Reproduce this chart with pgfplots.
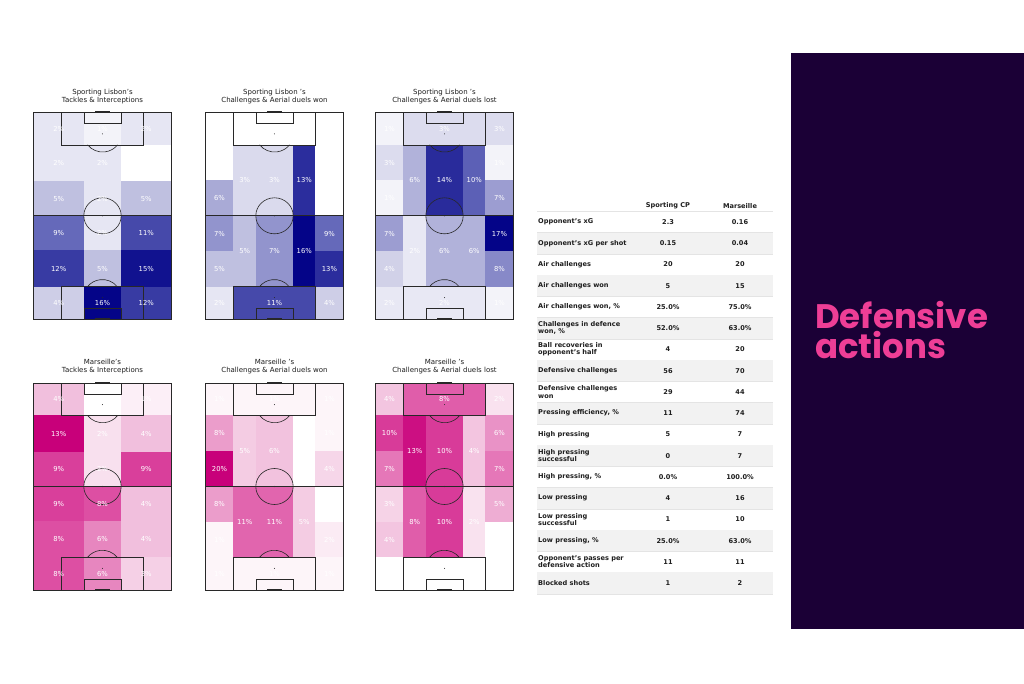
\documentclass[border=0pt]{standalone}
\usepackage{fontspec}
\setmainfont{DejaVu Sans}
\newfontfamily\poppins{Poppins}
\usepackage{pgfplots}
\usepackage{pgfplotstable}
\pgfplotsset{compat=1.18}

\definecolor{panel}{RGB}{27,0,54}
\definecolor{pinktitle}{RGB}{238,62,150}
\definecolor{stripe}{RGB}{242,242,242}
\definecolor{rowline}{RGB}{228,228,228}
\definecolor{txt}{RGB}{30,30,30}
\definecolor{pline}{RGB}{40,40,40}

\pgfplotsset{
  colormap={pinks}{rgb255(0cm)=(255,255,255) rgb255(3cm)=(242,194,222) rgb255(6cm)=(222,82,165) rgb255(10cm)=(200,0,122)},
  colormap={blues}{rgb255(0cm)=(255,255,255) rgb255(3cm)=(196,196,226) rgb255(6cm)=(88,92,180) rgb255(10cm)=(4,4,136)},
  cellstyle/.style={patch, patch type=rectangle, shader=faceted, faceted color=mapped color, line width=0.4pt, point meta=explicit},
  pitch/.style={width=138pt, height=207pt, scale only axis, xmin=0, xmax=68, ymin=0, ymax=105,
    axis lines=none, clip=false, anchor=south west, point meta min=0},
  labelsty/.style={only marks, mark=none, point meta=explicit symbolic,
    nodes near coords={\pgfplotspointmeta\%},
    nodes near coords style={font={\fontsize{6.8}{8}\selectfont}, text=white, anchor=center, inner sep=0pt}},
}

% ---------- data: x0 x1 y0 y1 value (percent) ----------
% Sporting Lisbon: Tackles & Interceptions
\pgfplotstableread{
x0 x1 y0 y1 v
0 24.84 88.5 105 2
24.84 43.16 88.5 105 1
43.16 68 88.5 105 2
0 24.84 70 88.5 2
24.84 43.16 70 88.5 2
43.16 68 70 88.5 0
0 24.84 52.5 70 5
24.84 43.16 52.5 70 2
43.16 68 52.5 70 5
0 24.84 35 52.5 9
24.84 43.16 35 52.5 2
43.16 68 35 52.5 11
0 24.84 16.5 35 12
24.84 43.16 16.5 35 5
43.16 68 16.5 35 15
0 24.84 0 16.5 4
24.84 43.16 0 16.5 16
43.16 68 0 16.5 12
}\tA
% Sporting Lisbon: Challenges & Aerial duels won
\pgfplotstableread{
x0 x1 y0 y1 v
0 13.84 88.5 105 0
13.84 54.16 88.5 105 0
54.16 68 88.5 105 0
0 13.84 70.5 88.5 0
0 13.84 52.5 70.5 6
0 13.84 34.5 52.5 7
0 13.84 16.5 34.5 5
13.84 24.84 52.5 88.5 3
13.84 24.84 16.5 52.5 5
24.84 43.16 52.5 88.5 3
24.84 43.16 16.5 52.5 7
43.16 54.16 52.5 88.5 13
43.16 54.16 16.5 52.5 16
54.16 68 70.5 88.5 0
54.16 68 52.5 70.5 0
54.16 68 34.5 52.5 9
54.16 68 16.5 34.5 13
0 13.84 0 16.5 2
13.84 54.16 0 16.5 11
54.16 68 0 16.5 4
}\tB
% Sporting Lisbon: Challenges & Aerial duels lost
\pgfplotstableread{
x0 x1 y0 y1 v
0 13.84 88.5 105 1
13.84 54.16 88.5 105 3
54.16 68 88.5 105 3
0 13.84 70.5 88.5 3
0 13.84 52.5 70.5 1
0 13.84 34.5 52.5 7
0 13.84 16.5 34.5 4
13.84 24.84 52.5 88.5 6
13.84 24.84 16.5 52.5 2
24.84 43.16 52.5 88.5 14
24.84 43.16 16.5 52.5 6
43.16 54.16 52.5 88.5 10
43.16 54.16 16.5 52.5 6
54.16 68 70.5 88.5 1
54.16 68 52.5 70.5 7
54.16 68 34.5 52.5 17
54.16 68 16.5 34.5 8
0 13.84 0 16.5 2
13.84 54.16 0 16.5 2
54.16 68 0 16.5 1
}\tC
% Marseille: Tackles & Interceptions
\pgfplotstableread{
x0 x1 y0 y1 v
0 24.84 88.5 105 4
24.84 43.16 88.5 105 0
43.16 68 88.5 105 1
0 24.84 70 88.5 13
24.84 43.16 70 88.5 2
43.16 68 70 88.5 4
0 24.84 52.5 70 9
24.84 43.16 52.5 70 2
43.16 68 52.5 70 9
0 24.84 35 52.5 9
24.84 43.16 35 52.5 8
43.16 68 35 52.5 4
0 24.84 16.5 35 8
24.84 43.16 16.5 35 6
43.16 68 16.5 35 4
0 24.84 0 16.5 8
24.84 43.16 0 16.5 6
43.16 68 0 16.5 3
}\tD
% Marseille: Challenges & Aerial duels won
\pgfplotstableread{
x0 x1 y0 y1 v
0 13.84 88.5 105 1
13.84 54.16 88.5 105 1
54.16 68 88.5 105 1
0 13.84 70.5 88.5 8
0 13.84 52.5 70.5 20
0 13.84 34.5 52.5 8
0 13.84 16.5 34.5 1
13.84 24.84 52.5 88.5 5
13.84 24.84 16.5 52.5 11
24.84 43.16 52.5 88.5 6
24.84 43.16 16.5 52.5 11
43.16 54.16 52.5 88.5 0
43.16 54.16 16.5 52.5 5
54.16 68 70.5 88.5 1
54.16 68 52.5 70.5 4
54.16 68 34.5 52.5 0
54.16 68 16.5 34.5 2
0 13.84 0 16.5 1
13.84 54.16 0 16.5 1
54.16 68 0 16.5 1
}\tE
% Marseille: Challenges & Aerial duels lost
\pgfplotstableread{
x0 x1 y0 y1 v
0 13.84 88.5 105 4
13.84 54.16 88.5 105 8
54.16 68 88.5 105 2
0 13.84 70.5 88.5 10
0 13.84 52.5 70.5 7
0 13.84 34.5 52.5 3
0 13.84 16.5 34.5 4
13.84 24.84 52.5 88.5 13
13.84 24.84 16.5 52.5 8
24.84 43.16 52.5 88.5 10
24.84 43.16 16.5 52.5 10
43.16 54.16 52.5 88.5 4
43.16 54.16 16.5 52.5 2
54.16 68 70.5 88.5 6
54.16 68 52.5 70.5 7
54.16 68 34.5 52.5 5
54.16 68 16.5 34.5 0
0 13.84 0 16.5 0
13.84 54.16 0 16.5 0
54.16 68 0 16.5 0
}\tF

\newcommand\drawcells[1]{%
  \pgfplotstablegetrowsof{#1}%
  \pgfmathtruncatemacro\nrows{\pgfplotsretval-1}%
  \pgfplotsforeachungrouped \i in {0,...,\nrows}{%
    \pgfplotstablegetelem{\i}{x0}\of#1\let\xa\pgfplotsretval
    \pgfplotstablegetelem{\i}{x1}\of#1\let\xb\pgfplotsretval
    \pgfplotstablegetelem{\i}{y0}\of#1\let\ya\pgfplotsretval
    \pgfplotstablegetelem{\i}{y1}\of#1\let\yb\pgfplotsretval
    \pgfplotstablegetelem{\i}{v}\of#1\let\vv\pgfplotsretval
    \edef\tmp{\noexpand\addplot[cellstyle] coordinates {(\xa,\ya) [\vv] (\xb,\ya) [\vv] (\xb,\yb) [\vv] (\xa,\yb) [\vv]};}%
    \tmp
  }%
}

\newcommand\pitchlines{%
  \draw[pline, line width=0.7pt] (0,0) rectangle (68,105);
  \draw[pline, line width=0.7pt] (0,52.5) -- (68,52.5);
  \draw[pline, line width=0.6pt] (34,52.5) ellipse [x radius=18.7pt, y radius=18.0pt];
  \fill[pline] (34,52.5) circle [radius=0.6pt];
  \draw[pline, line width=0.6pt] (13.84,0) rectangle (54.16,16.5);
  \draw[pline, line width=0.6pt] (13.84,88.5) rectangle (54.16,105);
  \draw[pline, line width=0.6pt] (24.84,0) rectangle (43.16,5.5);
  \draw[pline, line width=0.6pt] (24.84,99.5) rectangle (43.16,105);
  \fill[pline] (34,11) circle [radius=0.5pt];
  \fill[pline] (34,94) circle [radius=0.5pt];
  \draw[pline, line width=0.6pt] (41.32,16.5) arc [start angle=36.87, end angle=143.13, x radius=18.7pt, y radius=18.0pt];
  \draw[pline, line width=0.6pt] (26.68,88.5) arc [start angle=216.87, end angle=323.13, x radius=18.7pt, y radius=18.0pt];
  \draw[pline, line width=1.8pt] (30.34,0) -- (37.66,0);
  \draw[pline, line width=1.8pt] (30.34,105) -- (37.66,105);
}

\newcommand\tabfont{\fontsize{6.6}{7.4}\selectfont\bfseries}
\newcommand\trow[4]{%
  \pgfmathsetmacro\yc{461-(#1-1)*21.24}%
  \pgfmathsetmacro\yt{\yc+10.62}%
  \pgfmathsetmacro\yb{\yc-10.62}%
  \ifodd#1\relax\else\fill[stripe] (537pt,\yb pt) rectangle (773pt,\yt pt);\fi
  \draw[rowline, line width=0.4pt] (537pt,\yb pt) -- (773pt,\yb pt);
  \node[anchor=west, align=left, font=\tabfont, text=txt, inner sep=0pt] at (538pt,\yc pt) {#2};
  \node[font=\tabfont, text=txt, inner sep=0pt] at (668pt,\yc pt) {#3};
  \node[font=\tabfont, text=txt, inner sep=0pt] at (740pt,\yc pt) {#4};
}

\newcommand\ptitle[3]{\node[align=center, font={\fontsize{7}{8}\selectfont}, text=txt, inner sep=0pt] at (#1pt,#2pt) {#3};}

\begin{document}
\begin{tikzpicture}
\fill[white] (0pt,0pt) rectangle (1024pt,683pt);
\path[use as bounding box] (0pt,0pt) rectangle (1024pt,683pt);

% right panel
\fill[panel] (791pt,54pt) rectangle (1024pt,630pt);
\node[anchor=north west, inner sep=0pt, align=left, text=pinktitle, font={\poppins\bfseries\fontsize{34}{30}\selectfont}] at (815pt,381.5pt) {Defensive\\actions};

% pitch titles
\ptitle{102.5}{586.5}{Sporting Lisbon's\\Tackles \& Interceptions}
\ptitle{274.5}{586.5}{Sporting Lisbon 's\\Challenges \& Aerial duels won}
\ptitle{444.5}{586.5}{Sporting Lisbon 's\\Challenges \& Aerial duels lost}
\ptitle{102.5}{316.5}{Marseille's\\Tackles \& Interceptions}
\ptitle{274.5}{316.5}{Marseille 's\\Challenges \& Aerial duels won}
\ptitle{444.5}{316.5}{Marseille 's\\Challenges \& Aerial duels lost}

% pitches
\begin{axis}[pitch, at={(33.5pt,363.7pt)}, colormap name=blues, point meta max=16]
  \drawcells{\tA}
  \pitchlines
  \addplot[labelsty] table[x expr=(\thisrow{x0}+\thisrow{x1})/2, y expr=(\thisrow{y0}+\thisrow{y1})/2, meta=v] {\tA};
\end{axis}
\begin{axis}[pitch, at={(205.5pt,363.7pt)}, colormap name=blues, point meta max=16]
  \drawcells{\tB}
  \pitchlines
  \addplot[labelsty] table[x expr=(\thisrow{x0}+\thisrow{x1})/2, y expr=(\thisrow{y0}+\thisrow{y1})/2, meta=v] {\tB};
\end{axis}
\begin{axis}[pitch, at={(375.5pt,363.7pt)}, colormap name=blues, point meta max=17]
  \drawcells{\tC}
  \pitchlines
  \addplot[labelsty] table[x expr=(\thisrow{x0}+\thisrow{x1})/2, y expr=(\thisrow{y0}+\thisrow{y1})/2, meta=v] {\tC};
\end{axis}
\begin{axis}[pitch, at={(33.5pt,93pt)}, colormap name=pinks, point meta max=13]
  \drawcells{\tD}
  \pitchlines
  \addplot[labelsty] table[x expr=(\thisrow{x0}+\thisrow{x1})/2, y expr=(\thisrow{y0}+\thisrow{y1})/2, meta=v] {\tD};
\end{axis}
\begin{axis}[pitch, at={(205.5pt,93pt)}, colormap name=pinks, point meta max=20]
  \drawcells{\tE}
  \pitchlines
  \addplot[labelsty] table[x expr=(\thisrow{x0}+\thisrow{x1})/2, y expr=(\thisrow{y0}+\thisrow{y1})/2, meta=v] {\tE};
\end{axis}
\begin{axis}[pitch, at={(375.5pt,93pt)}, colormap name=pinks, point meta max=14]
  \drawcells{\tF}
  \pitchlines
  \addplot[labelsty] table[x expr=(\thisrow{x0}+\thisrow{x1})/2, y expr=(\thisrow{y0}+\thisrow{y1})/2, meta=v] {\tF};
\end{axis}

% table
\node[font=\tabfont, text=txt, inner sep=0pt] at (668pt,477pt) {Sporting CP};
\node[font=\tabfont, text=txt, inner sep=0pt] at (740pt,477pt) {Marseille};
\draw[rowline, line width=0.4pt] (537pt,471.6pt) -- (773pt,471.6pt);
\trow{1}{Opponent's xG}{2.3}{0.16}
\trow{2}{Opponent's xG per shot}{0.15}{0.04}
\trow{3}{Air challenges}{20}{20}
\trow{4}{Air challenges won}{5}{15}
\trow{5}{Air challenges won, \%}{25.0\%}{75.0\%}
\trow{6}{Challenges in defence\\won, \%}{52.0\%}{63.0\%}
\trow{7}{Ball recoveries in\\opponent's half}{4}{20}
\trow{8}{Defensive challenges}{56}{70}
\trow{9}{Defensive challenges\\won}{29}{44}
\trow{10}{Pressing efficiency, \%}{11}{74}
\trow{11}{High pressing}{5}{7}
\trow{12}{High pressing\\successful}{0}{7}
\trow{13}{High pressing, \%}{0.0\%}{100.0\%}
\trow{14}{Low pressing}{4}{16}
\trow{15}{Low pressing\\successful}{1}{10}
\trow{16}{Low pressing, \%}{25.0\%}{63.0\%}
\trow{17}{Opponent's passes per\\defensive action}{11}{11}
\trow{18}{Blocked shots}{1}{2}
\end{tikzpicture}
\end{document}
